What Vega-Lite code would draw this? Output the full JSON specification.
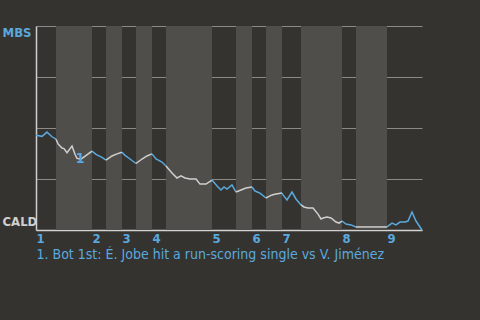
{
  "$schema": "https://vega.github.io/schema/vega-lite/v6.json",
  "width": 386,
  "height": 204,
  "autosize": {"type": "none"},
  "padding": {"left": 36, "top": 26, "right": 58, "bottom": 90},
  "background": "#35332f",
  "config": {
    "view": {"stroke": null},
    "font": "DejaVu Sans Condensed, Roboto, sans-serif",
    "axis": {"zindex": 1}
  },
  "datasets": {
    "bands": [
      {"start": 20, "end": 56},
      {"start": 70, "end": 86},
      {"start": 100, "end": 116},
      {"start": 130, "end": 176},
      {"start": 200, "end": 216},
      {"start": 230, "end": 246},
      {"start": 265, "end": 306},
      {"start": 320, "end": 351}
    ],
    "wp": [
      {"t": 0, "wp": 0.464, "h": "T1", "team": "MBS"},
      {"t": 6, "wp": 0.459, "h": "T1", "team": "MBS"},
      {"t": 11, "wp": 0.48, "h": "T1", "team": "MBS"},
      {"t": 16, "wp": 0.457, "h": "T1", "team": "MBS"},
      {"t": 20, "wp": 0.445, "h": "T1", "team": "MBS"},
      {"t": 20, "wp": 0.445, "h": "B1", "team": "CALD"},
      {"t": 22, "wp": 0.422, "h": "B1", "team": "CALD"},
      {"t": 26, "wp": 0.402, "h": "B1", "team": "CALD"},
      {"t": 28, "wp": 0.399, "h": "B1", "team": "CALD"},
      {"t": 31, "wp": 0.379, "h": "B1", "team": "CALD"},
      {"t": 36, "wp": 0.412, "h": "B1", "team": "CALD"},
      {"t": 39, "wp": 0.371, "h": "B1", "team": "CALD"},
      {"t": 41, "wp": 0.351, "h": "B1", "team": "CALD"},
      {"t": 45, "wp": 0.347, "h": "B1", "team": "CALD"},
      {"t": 56, "wp": 0.387, "h": "B1", "team": "CALD"},
      {"t": 56, "wp": 0.387, "h": "T2", "team": "MBS"},
      {"t": 60, "wp": 0.371, "h": "T2", "team": "MBS"},
      {"t": 66, "wp": 0.356, "h": "T2", "team": "MBS"},
      {"t": 70, "wp": 0.342, "h": "T2", "team": "MBS"},
      {"t": 70, "wp": 0.342, "h": "B2", "team": "CALD"},
      {"t": 76, "wp": 0.363, "h": "B2", "team": "CALD"},
      {"t": 81, "wp": 0.373, "h": "B2", "team": "CALD"},
      {"t": 86, "wp": 0.381, "h": "B2", "team": "CALD"},
      {"t": 86, "wp": 0.381, "h": "T3", "team": "MBS"},
      {"t": 89, "wp": 0.366, "h": "T3", "team": "MBS"},
      {"t": 94, "wp": 0.348, "h": "T3", "team": "MBS"},
      {"t": 100, "wp": 0.326, "h": "T3", "team": "MBS"},
      {"t": 100, "wp": 0.326, "h": "B3", "team": "CALD"},
      {"t": 106, "wp": 0.348, "h": "B3", "team": "CALD"},
      {"t": 111, "wp": 0.363, "h": "B3", "team": "CALD"},
      {"t": 116, "wp": 0.373, "h": "B3", "team": "CALD"},
      {"t": 116, "wp": 0.373, "h": "T4", "team": "MBS"},
      {"t": 120, "wp": 0.348, "h": "T4", "team": "MBS"},
      {"t": 126, "wp": 0.333, "h": "T4", "team": "MBS"},
      {"t": 130, "wp": 0.314, "h": "T4", "team": "MBS"},
      {"t": 130, "wp": 0.314, "h": "B4", "team": "CALD"},
      {"t": 136, "wp": 0.279, "h": "B4", "team": "CALD"},
      {"t": 141, "wp": 0.255, "h": "B4", "team": "CALD"},
      {"t": 145, "wp": 0.265, "h": "B4", "team": "CALD"},
      {"t": 149, "wp": 0.255, "h": "B4", "team": "CALD"},
      {"t": 154, "wp": 0.25, "h": "B4", "team": "CALD"},
      {"t": 160, "wp": 0.25, "h": "B4", "team": "CALD"},
      {"t": 164, "wp": 0.225, "h": "B4", "team": "CALD"},
      {"t": 170, "wp": 0.225, "h": "B4", "team": "CALD"},
      {"t": 176, "wp": 0.245, "h": "B4", "team": "CALD"},
      {"t": 176, "wp": 0.245, "h": "T5", "team": "MBS"},
      {"t": 181, "wp": 0.216, "h": "T5", "team": "MBS"},
      {"t": 185, "wp": 0.196, "h": "T5", "team": "MBS"},
      {"t": 188, "wp": 0.211, "h": "T5", "team": "MBS"},
      {"t": 191, "wp": 0.201, "h": "T5", "team": "MBS"},
      {"t": 196, "wp": 0.221, "h": "T5", "team": "MBS"},
      {"t": 200, "wp": 0.186, "h": "T5", "team": "MBS"},
      {"t": 200, "wp": 0.186, "h": "B5", "team": "CALD"},
      {"t": 205, "wp": 0.196, "h": "B5", "team": "CALD"},
      {"t": 210, "wp": 0.206, "h": "B5", "team": "CALD"},
      {"t": 216, "wp": 0.211, "h": "B5", "team": "CALD"},
      {"t": 216, "wp": 0.211, "h": "T6", "team": "MBS"},
      {"t": 219, "wp": 0.191, "h": "T6", "team": "MBS"},
      {"t": 224, "wp": 0.181, "h": "T6", "team": "MBS"},
      {"t": 230, "wp": 0.157, "h": "T6", "team": "MBS"},
      {"t": 230, "wp": 0.157, "h": "B6", "team": "CALD"},
      {"t": 232, "wp": 0.162, "h": "B6", "team": "CALD"},
      {"t": 236, "wp": 0.172, "h": "B6", "team": "CALD"},
      {"t": 240, "wp": 0.176, "h": "B6", "team": "CALD"},
      {"t": 246, "wp": 0.181, "h": "B6", "team": "CALD"},
      {"t": 246, "wp": 0.181, "h": "T7", "team": "MBS"},
      {"t": 247, "wp": 0.172, "h": "T7", "team": "MBS"},
      {"t": 251, "wp": 0.147, "h": "T7", "team": "MBS"},
      {"t": 256, "wp": 0.186, "h": "T7", "team": "MBS"},
      {"t": 260, "wp": 0.152, "h": "T7", "team": "MBS"},
      {"t": 265, "wp": 0.123, "h": "T7", "team": "MBS"},
      {"t": 265, "wp": 0.123, "h": "B7", "team": "CALD"},
      {"t": 268, "wp": 0.113, "h": "B7", "team": "CALD"},
      {"t": 272, "wp": 0.108, "h": "B7", "team": "CALD"},
      {"t": 277, "wp": 0.108, "h": "B7", "team": "CALD"},
      {"t": 282, "wp": 0.078, "h": "B7", "team": "CALD"},
      {"t": 285, "wp": 0.054, "h": "B7", "team": "CALD"},
      {"t": 287, "wp": 0.059, "h": "B7", "team": "CALD"},
      {"t": 291, "wp": 0.064, "h": "B7", "team": "CALD"},
      {"t": 295, "wp": 0.059, "h": "B7", "team": "CALD"},
      {"t": 300, "wp": 0.039, "h": "B7", "team": "CALD"},
      {"t": 303, "wp": 0.034, "h": "B7", "team": "CALD"},
      {"t": 306, "wp": 0.044, "h": "B7", "team": "CALD"},
      {"t": 306, "wp": 0.044, "h": "T8", "team": "MBS"},
      {"t": 310, "wp": 0.029, "h": "T8", "team": "MBS"},
      {"t": 315, "wp": 0.025, "h": "T8", "team": "MBS"},
      {"t": 320, "wp": 0.015, "h": "T8", "team": "MBS"},
      {"t": 320, "wp": 0.015, "h": "B8", "team": "CALD"},
      {"t": 351, "wp": 0.015, "h": "B8", "team": "CALD"},
      {"t": 351, "wp": 0.015, "h": "T9", "team": "MBS"},
      {"t": 356, "wp": 0.034, "h": "T9", "team": "MBS"},
      {"t": 360, "wp": 0.025, "h": "T9", "team": "MBS"},
      {"t": 364, "wp": 0.039, "h": "T9", "team": "MBS"},
      {"t": 369, "wp": 0.039, "h": "T9", "team": "MBS"},
      {"t": 372, "wp": 0.044, "h": "T9", "team": "MBS"},
      {"t": 376, "wp": 0.088, "h": "T9", "team": "MBS"},
      {"t": 380, "wp": 0.044, "h": "T9", "team": "MBS"},
      {"t": 386, "wp": 0.0, "h": "T9", "team": "MBS"}
    ],
    "events": [
      {"t": 44, "wp": 0.348, "label": "1"}
    ]
  },
  "layer": [
    {
      "data": {"name": "wp"},
      "mark": {"type": "line", "strokeWidth": 1.5, "interpolate": "linear", "opacity": 0},
      "encoding": {
        "x": {
          "field": "t", "type": "quantitative",
          "scale": {"domain": [0, 386], "nice": false, "zero": false},
          "axis": {
            "title": "1. Bot 1st: É. Jobe hit a run-scoring single vs V. Jiménez",
            "titleColor": "#5aa9de",
            "titleFontWeight": "normal",
            "titleFontSize": 14,
            "titleAlign": "left",
            "titleBaseline": "alphabetic",
            "titleX": 0,
            "titleY": 28,
            "values": [0, 56, 86, 116, 176, 216, 246, 306, 351],
            "labelExpr": "indexof([0,56,86,116,176,216,246,306,351], datum.value) + 1",
            "labelAlign": "left",
            "labelBaseline": "top",
            "labelPadding": 2,
            "labelColor": "#5aa9de",
            "labelFontWeight": "bold",
            "labelFontSize": 13,
            "labelOverlap": false,
            "labelFlush": false,
            "ticks": false,
            "tickSize": 0,
            "grid": false,
            "domainColor": "#d2d2d2",
            "domainWidth": 1.5
          }
        },
        "y": {
          "field": "wp", "type": "quantitative",
          "scale": {"domain": [0, 1], "nice": false, "zero": false},
          "axis": {
            "title": null,
            "values": [0, 0.25, 0.5, 0.75, 1],
            "labelExpr": "datum.value == 1 ? 'MBS' : (datum.value == 0 ? 'CALD' : '')",
            "labelAlign": "left",
            "labelPadding": 34,
            "ticks": false,
            "tickSize": 0,
            "labelFontWeight": "bold",
            "labelFontSize": 13,
            "labelColor": {"condition": {"test": "datum.value == 1", "value": "#5aa9de"}, "value": "#cfcfcf"},
            "labelBaseline": {"condition": {"test": "datum.value == 1", "value": "top"}, "value": "bottom"},
            "labelOffset": {"condition": {"test": "datum.value == 0", "value": -2}, "value": 0},
            "grid": true,
            "gridColor": "#8c8a86",
            "gridWidth": 1,
            "domainColor": "#cfcfcf",
            "domainWidth": 1.5
          }
        },
        "detail": {"field": "h"}
      }
    },
    {
      "data": {"name": "bands"},
      "mark": {"type": "rect", "color": "#4f4e4b"},
      "encoding": {
        "x": {"field": "start", "type": "quantitative"},
        "x2": {"field": "end"}
      }
    },
    {
      "data": {"name": "wp"},
      "mark": {"type": "line", "strokeWidth": 1.5, "interpolate": "linear"},
      "encoding": {
        "x": {"field": "t", "type": "quantitative"},
        "y": {"field": "wp", "type": "quantitative"},
        "color": {
          "field": "team", "type": "nominal",
          "scale": {"domain": ["MBS", "CALD"], "range": ["#5aa9de", "#cfcfcf"]},
          "legend": null
        },
        "detail": {"field": "h"},
        "order": {"field": "t"}
      }
    },
    {
      "data": {"name": "events"},
      "mark": {"type": "text", "color": "#5aa9de", "fontWeight": "bold", "fontSize": 14, "align": "center", "baseline": "middle"},
      "encoding": {
        "x": {"field": "t", "type": "quantitative"},
        "y": {"field": "wp", "type": "quantitative"},
        "text": {"field": "label"}
      }
    }
  ]
}
